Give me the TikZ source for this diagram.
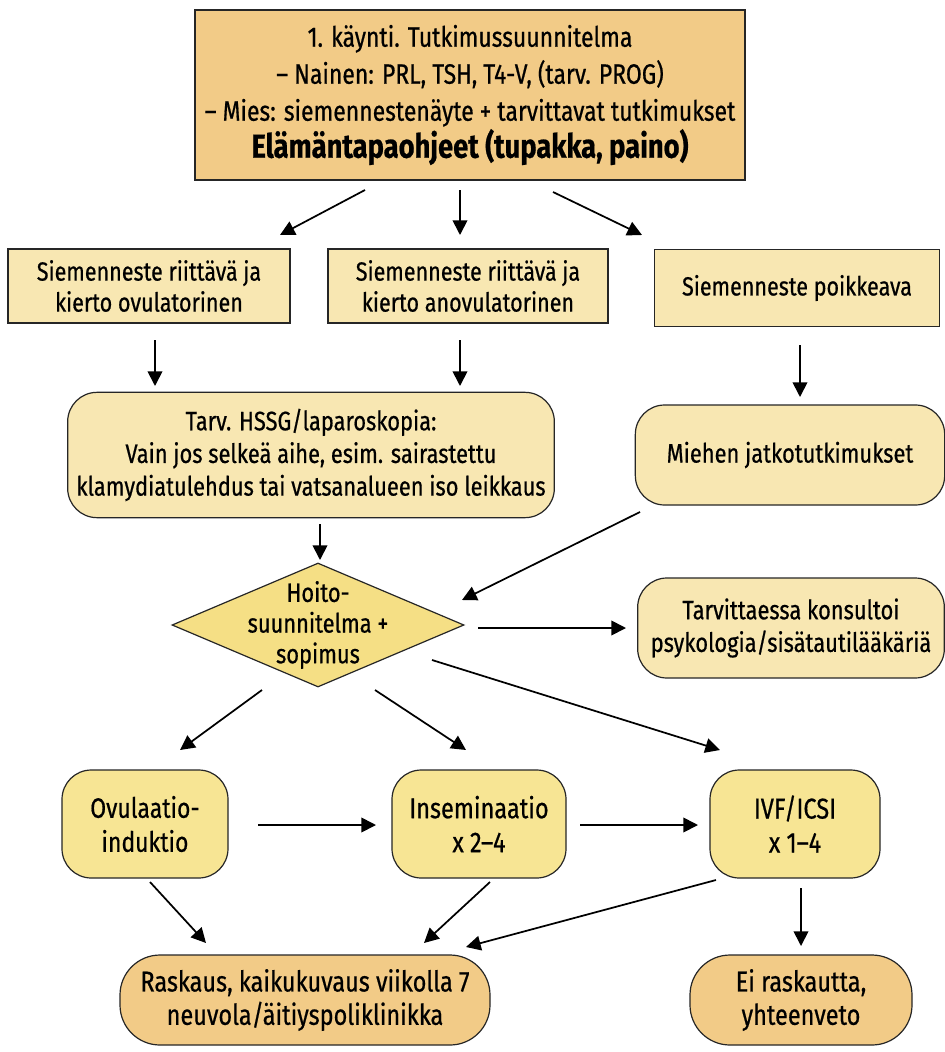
\documentclass[tikz,border=0pt]{standalone}
\usepackage{fontspec}
\setmainfont{Fira Sans}[FakeStretch=0.82,FakeBold=0.6]
\usetikzlibrary{shapes.geometric,arrows.meta}
\definecolor{tan}{HTML}{F2CB87}
\definecolor{lightb}{HTML}{F8E7B2}
\definecolor{yelb}{HTML}{F7E594}
\definecolor{diam}{HTML}{F5DF85}
\tikzset{
  base/.style={draw=black!85, line width=0.9pt, align=center, inner sep=0pt,
    font=\fontsize{20}{24.5}\selectfont},
  sqbox/.style={base, rectangle},
  rbox/.style={base, rectangle, rounded corners=22pt},
  pill/.style={base, rectangle, rounded corners=30pt},
  arr/.style={line width=1.3pt, -{Triangle[length=11pt,width=11pt]}},
}
\begin{document}
\begin{tikzpicture}[x=0.75pt,y=-0.75pt]
\useasboundingbox (0,0) rectangle (945,1052);
\fill[white] (0,0) rectangle (945,1052);

\node[sqbox, fill=tan, minimum width=412.5pt, minimum height=127.5pt,
  font=\fontsize{21}{27.75}\selectfont] (top) at (470,95)
  {1. käynti. Tutkimussuunnitelma\\
   – Nainen: PRL, TSH, T4-V, (tarv. PROG)\\
   – Mies: siemennestenäyte + tarvittavat tutkimukset\\
   {\bfseries\fontsize{25}{27.75}\selectfont Elämäntapaohjeet (tupakka, paino)}};

\node[sqbox, fill=lightb, minimum width=211.5pt, minimum height=55.5pt,
  font=\fontsize{19.7}{23.25}\selectfont] (s1) at (149,286)
  {Siemenneste riittävä ja\\kierto ovulatorinen};
\node[sqbox, fill=lightb, minimum width=210pt, minimum height=55.5pt,
  font=\fontsize{19.7}{23.25}\selectfont] (s2) at (468,286)
  {Siemenneste riittävä ja\\kierto anovulatorinen};
\node[sqbox, fill=lightb, minimum width=213.75pt, minimum height=58pt,
  font=\fontsize{19.7}{23.25}\selectfont] (s3) at (797,288)
  {Siemenneste poikkeava};

\node[rbox, fill=lightb, minimum width=365pt, minimum height=94pt] (hssg) at (311,455)
  {Tarv. HSSG/laparoskopia:\\Vain jos selkeä aihe, esim. sairastettu\\klamydiatulehdus tai vatsanalueen iso leikkaus};
\node[rbox, fill=lightb, minimum width=232pt, minimum height=75pt] (mies) at (790,455)
  {Miehen jatkotutkimukset};

\node[draw=black!85, line width=0.9pt, diamond, fill=diam, minimum width=219pt, minimum height=93pt, inner sep=0pt] (plan) at (318,625) {};
\node[align=center, inner sep=0pt, font=\fontsize{20}{23}\selectfont] (plantext) at (plan.center)
  {Hoito-\\suunnitelma +\\sopimus};
\node[rbox, fill=lightb, minimum width=230pt, minimum height=75pt] (kons) at (791,628)
  {Tarvittaessa konsultoi\\psykologia/sisätautilääkäriä};

\node[rbox, fill=yelb, minimum width=124.5pt, minimum height=81pt,
  font=\fontsize{21}{25.5}\selectfont] (ovu) at (145,824)
  {Ovulaatio-\\induktio};
\node[rbox, fill=yelb, minimum width=130.5pt, minimum height=81pt,
  font=\fontsize{21.5}{25.5}\selectfont] (ins) at (479,824)
  {Inseminaatio\\x 2–4};
\node[rbox, fill=yelb, minimum width=127.5pt, minimum height=81pt,
  font=\fontsize{21.5}{25.5}\selectfont] (ivf) at (795,824)
  {IVF/ICSI\\x 1–4};

\node[pill, fill=tan, minimum width=277.5pt, minimum height=67.5pt,
  font=\fontsize{21.5}{25}\selectfont] (rask) at (305,1000)
  {Raskaus, kaikukuvaus viikolla 7\\neuvola/äitiyspoliklinikka};
\node[pill, fill=tan, minimum width=166.5pt, minimum height=67.5pt,
  font=\fontsize{21.5}{25}\selectfont] (ei) at (801,1000)
  {Ei raskautta,\\yhteenveto};

% arrows
\coordinate (a1s) at (365,190); \coordinate (a1e) at (280,235);
\coordinate (a2s) at (460,190); \coordinate (a2e) at (460,235);
\coordinate (a3s) at (553,192); \coordinate (a3e) at (642,235);
\draw[arr] (a1s) -- (a1e);
\draw[arr] (a2s) -- (a2e);
\draw[arr] (a3s) -- (a3e);

\coordinate (b1s) at (155,340); \coordinate (b1e) at (155,386);
\coordinate (b2s) at (460,340); \coordinate (b2e) at (460,386);
\coordinate (b3s) at (800,345); \coordinate (b3e) at (800,397);
\draw[arr] (b1s) -- (b1e);
\draw[arr] (b2s) -- (b2e);
\draw[arr] (b3s) -- (b3e);

\coordinate (c1s) at (320,524); \coordinate (c1e) at (320,560);
\draw[arr] (c1s) -- (c1e);
\coordinate (c2s) at (640,512); \coordinate (c2e) at (462,600);
\draw[arr] (c2s) -- (c2e);
\coordinate (c3s) at (478,628); \coordinate (c3e) at (626,628);
\draw[arr] (c3s) -- (c3e);

\coordinate (d1s) at (262,690); \coordinate (d1e) at (180,750);
\coordinate (d2s) at (375,690); \coordinate (d2e) at (466,750);
\coordinate (d3s) at (432,660); \coordinate (d3e) at (720,750);
\draw[arr] (d1s) -- (d1e);
\draw[arr] (d2s) -- (d2e);
\draw[arr] (d3s) -- (d3e);

\coordinate (e1s) at (258,825); \coordinate (e1e) at (376,825);
\coordinate (e2s) at (580,825); \coordinate (e2e) at (698,825);
\draw[arr] (e1s) -- (e1e);
\draw[arr] (e2s) -- (e2e);

\coordinate (f1s) at (150,882); \coordinate (f1e) at (206,943);
\coordinate (f2s) at (490,882); \coordinate (f2e) at (424,943);
\coordinate (f3s) at (716,880); \coordinate (f3e) at (466,947);
\coordinate (f4s) at (801,888); \coordinate (f4e) at (801,946);
\draw[arr] (f1s) -- (f1e);
\draw[arr] (f2s) -- (f2e);
\draw[arr] (f3s) -- (f3e);
\draw[arr] (f4s) -- (f4e);
\end{tikzpicture}
\end{document}
